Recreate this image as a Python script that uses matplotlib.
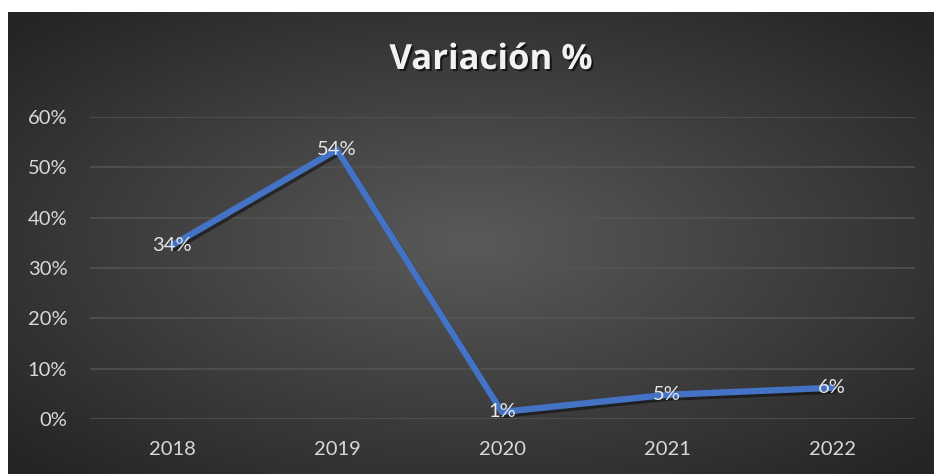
import numpy as np
import matplotlib
matplotlib.use("Agg")
import matplotlib.pyplot as plt
import matplotlib.patheffects as pe

years = ["2018", "2019", "2020", "2021", "2022"]
values = [0.345, 0.535, 0.014, 0.048, 0.062]
labels = ["34%", "54%", "1%", "5%", "6%"]
yticks = [0, 0.1, 0.2, 0.3, 0.4, 0.5, 0.6]
ytick_labels = ["0%", "10%", "20%", "30%", "40%", "50%", "60%"]
title = "Variación %"

W, H = 934, 474
fig = plt.figure(figsize=(W / 100, H / 100), dpi=100)
fig.patch.set_facecolor("white")

# background gradient panel
bg = fig.add_axes([8 / W, 0, 1 - 8 / W, (H - 12) / H])
bg.set_axis_off()
nx, ny = 400, 200
xx, yy = np.meshgrid(np.linspace(-1, 1, nx), np.linspace(-1, 1, ny))
r = np.sqrt(xx ** 2 + yy ** 2)
r = np.clip(r / 1.35, 0, 1)
c0 = np.array([0x5a, 0x5a, 0x5a]) / 255
c1 = np.array([0x25, 0x25, 0x25]) / 255
img = c0[None, None, :] * (1 - r[..., None]) + c1[None, None, :] * r[..., None]
bg.imshow(img, aspect="auto", extent=[0, 1, 0, 1], interpolation="bilinear")
bg.set_xlim(0, 1)
bg.set_ylim(0, 1)

font = ["Lato", "DejaVu Sans"]
fs = 14.5
ax = fig.add_axes([89.5 / W, (H - 419) / H, 825 / W, (419 - 117) / H])
ax.set_facecolor("none")
x = np.arange(len(years))
ax.plot(x, values, color="#4472C4", lw=4.6, solid_capstyle="round", solid_joinstyle="round",
        path_effects=[pe.SimpleLineShadow(offset=(1.5, -2), shadow_color="black", alpha=0.45),
                      pe.Normal()], zorder=3)
for xi, v, lab in zip(x, values, labels):
    ax.text(xi, v, lab, ha="center", va="center", color="#E6E6E6", fontsize=fs,
            family=font, zorder=4)

ax.set_xlim(-0.5, len(years) - 0.5)
ax.set_ylim(0, 0.6)
ax.set_yticks(yticks)
ax.set_yticklabels(ytick_labels, family=font, fontsize=fs, color="#D9D9D9")
ax.set_xticks(x)
ax.set_xticklabels(years, family=font, fontsize=fs, color="#D9D9D9")
ax.tick_params(axis="y", length=0, pad=16)
ax.tick_params(axis="x", length=0, pad=16)
ax.grid(axis="y", color="#545454", lw=1.1)
ax.set_axisbelow(True)
for s in ax.spines.values():
    s.set_visible(False)

fig.text(491 / W, 1 - 60 / H, title, ha="center", va="center", fontsize=25, fontweight="bold",
         color="#F2F2F2", family=["Open Sans", "DejaVu Sans"],
         path_effects=[pe.withSimplePatchShadow(offset=(1.5, -1.5), shadow_rgbFace="black", alpha=0.6)])

fig.savefig("out.png", dpi=100, facecolor=fig.get_facecolor())
